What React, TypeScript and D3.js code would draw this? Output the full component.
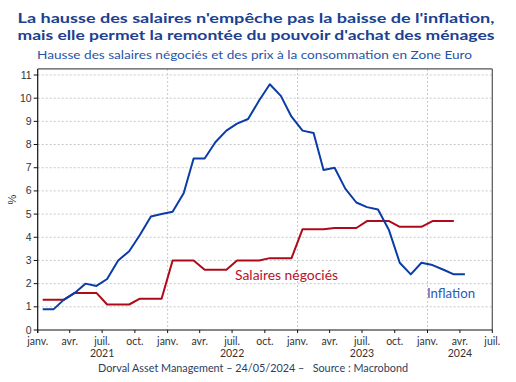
import React from "react";
import * as d3 from "d3";

const months: string[] = [
  "2021-01","2021-02","2021-03","2021-04","2021-05","2021-06","2021-07","2021-08","2021-09","2021-10","2021-11","2021-12",
  "2022-01","2022-02","2022-03","2022-04","2022-05","2022-06","2022-07","2022-08","2022-09","2022-10","2022-11","2022-12",
  "2023-01","2023-02","2023-03","2023-04","2023-05","2023-06","2023-07","2023-08","2023-09","2023-10","2023-11","2023-12",
  "2024-01","2024-02","2024-03","2024-04",
];

const inflation: number[] = [
  0.9, 0.9, 1.3, 1.6, 2.0, 1.9, 2.2, 3.0, 3.4, 4.1, 4.9, 5.0,
  5.1, 5.9, 7.4, 7.4, 8.1, 8.6, 8.9, 9.1, 9.9, 10.6, 10.1, 9.2,
  8.6, 8.5, 6.9, 7.0, 6.1, 5.5, 5.3, 5.2, 4.3, 2.9, 2.4, 2.9,
  2.8, 2.6, 2.4, 2.4,
];

const wages: (number | null)[] = [
  1.3, 1.3, 1.3, 1.6, 1.6, 1.6, 1.1, 1.1, 1.1, 1.35, 1.35, 1.35,
  3.0, 3.0, 3.0, 2.6, 2.6, 2.6, 3.0, 3.0, 3.0, 3.1, 3.1, 3.1,
  4.35, 4.35, 4.35, 4.4, 4.4, 4.4, 4.7, 4.7, 4.7, 4.45, 4.45, 4.45,
  4.7, 4.7, 4.7, null,
];

const yTicks: number[] = [0, 1, 2, 3, 4, 5, 6, 7, 8, 9, 10, 11];
const monthLabels: string[] = ["janv.", "avr.", "juil.", "oct."];
const yearLabels: { year: string; month: string }[] = [
  { year: "2021", month: "2021-07" },
  { year: "2022", month: "2022-07" },
  { year: "2023", month: "2023-07" },
  { year: "2024", month: "2024-04" },
];

const title1 = "La hausse des salaires n'empêche pas la baisse de l'inflation,";
const title2 = "mais elle permet la remontée du pouvoir d'achat des ménages";
const subtitle = "Hausse des salaires négociés et des prix à la consommation en Zone Euro";
const footer = "Dorval Asset Management \u2013 24/05/2024 \u2013   Source : Macrobond";

const W = 516;
const H = 382;
const FONT = "Lato, 'Noto Sans', sans-serif";

export default function App() {
  const parse = (s: string, day = 15) => {
    const [y, m] = s.split("-").map(Number);
    return new Date(y, m - 1, day);
  };
  const x = d3
    .scaleTime()
    .domain([new Date(2021, 0, 1), new Date(2024, 6, 1)])
    .range([37.7, 492.3]);
  const y = d3.scaleLinear().domain([0, 11]).range([330, 75]);
  const top = y(11.26);
  const left = x.range()[0];
  const right = x.range()[1];
  const bottom = y(0);

  const line = d3
    .line<{ d: Date; v: number | null }>()
    .defined((p) => p.v !== null)
    .x((p) => x(p.d))
    .y((p) => y(p.v as number));

  const infData = months.map((m, i) => ({ d: parse(m), v: inflation[i] }));
  const wageData = months.map((m, i) => ({ d: parse(m), v: wages[i] }));

  const quarterTicks: Date[] = d3.timeMonth.every(3)!.range(new Date(2021, 0, 1), new Date(2024, 6, 2));
  const yearGrid: Date[] = [new Date(2022, 0, 1), new Date(2023, 0, 1), new Date(2024, 0, 1)];

  return (
    <svg width={W} height={H} style={{ position: "absolute", left: 0, top: 0, background: "#fff" }}>
      <text x={W / 2 - 2} y={23} textAnchor="middle" fontFamily={FONT} fontSize={14} fontWeight={700}
        fill="#1b4191" textLength={477} lengthAdjust="spacingAndGlyphs">{title1}</text>
      <text x={W / 2 - 2} y={39.5} textAnchor="middle" fontFamily={FONT} fontSize={14} fontWeight={700}
        fill="#1b4191" textLength={477} lengthAdjust="spacingAndGlyphs">{title2}</text>
      <text x={254.5} y={59} textAnchor="middle" fontFamily={FONT} fontSize={12}
        fill="#1f55a8" textLength={435} lengthAdjust="spacingAndGlyphs">{subtitle}</text>

      {/* horizontal grid */}
      {yTicks.filter((t) => t > 0).map((t) => (
        <line key={"g" + t} x1={left} x2={right} y1={y(t)} y2={y(t)} stroke="#c8c8c8" strokeWidth={1} strokeDasharray="2,2" />
      ))}
      {yearGrid.map((d, i) => (
        <line key={"v" + i} x1={x(d)} x2={x(d)} y1={top} y2={bottom} stroke="#c8c8c8" strokeWidth={1} strokeDasharray="2,2" />
      ))}

      {/* frame */}
      <line x1={left} x2={right} y1={top} y2={top} stroke="#555" strokeWidth={1.2} />
      <line x1={right} x2={right} y1={top} y2={bottom} stroke="#555" strokeWidth={1.2} />
      <line x1={left} x2={left} y1={top} y2={bottom + 3} stroke="#111" strokeWidth={1.2} />
      <line x1={left} x2={right} y1={bottom} y2={bottom} stroke="#111" strokeWidth={1} />

      {/* y ticks */}
      {yTicks.map((t) => (
        <g key={"y" + t}>
          <line x1={left - 4} x2={left} y1={y(t)} y2={y(t)} stroke="#111" strokeWidth={1} />
          <text x={left - 6} y={y(t) + 3.5} textAnchor="end" fontFamily="'Liberation Sans', Arial, sans-serif"
            fontSize={10.5} fill="#333">{t}</text>
        </g>
      ))}
      <text transform={`translate(16,${(top + bottom) / 2}) rotate(-90)`} textAnchor="middle"
        fontFamily="'Liberation Sans', Arial, sans-serif" fontSize={11} fill="#333">%</text>

      {/* x ticks */}
      {quarterTicks.map((d, i) => (
        <g key={"x" + i}>
          <line x1={x(d)} x2={x(d)} y1={bottom} y2={bottom + 3} stroke="#111" strokeWidth={1} />
          <text x={x(d)} y={345} textAnchor="middle" fontFamily={FONT} fontSize={10.5} fill="#333">
            {monthLabels[d.getMonth() / 3]}
          </text>
        </g>
      ))}
      {yearLabels.map((yl) => (
        <text key={yl.year} x={x(parse(yl.month, 1))} y={356.5} textAnchor="middle" fontFamily={FONT}
          fontSize={10.5} fill="#333">{yl.year}</text>
      ))}

      {/* series */}
      <path d={line(wageData) || ""} fill="none" stroke="#ad0b1a" strokeWidth={2} strokeLinejoin="round" />
      <path d={line(infData) || ""} fill="none" stroke="#0a3ca8" strokeWidth={2} strokeLinejoin="round" />

      <text x={235} y={280} fontFamily={FONT} fontSize={13} fill="#b5122a" textLength={103}
        lengthAdjust="spacingAndGlyphs">Salaires négociés</text>
      <text x={427} y={298} fontFamily={FONT} fontSize={13} fill="#2a5bb5" textLength={48}
        lengthAdjust="spacingAndGlyphs">Inflation</text>

      <text x={98} y={372} fontFamily={FONT} fontSize={11} fill="#2c3e60" textLength={310}
        lengthAdjust="spacingAndGlyphs" style={{ whiteSpace: "pre" }}>{footer}</text>
    </svg>
  );
}
